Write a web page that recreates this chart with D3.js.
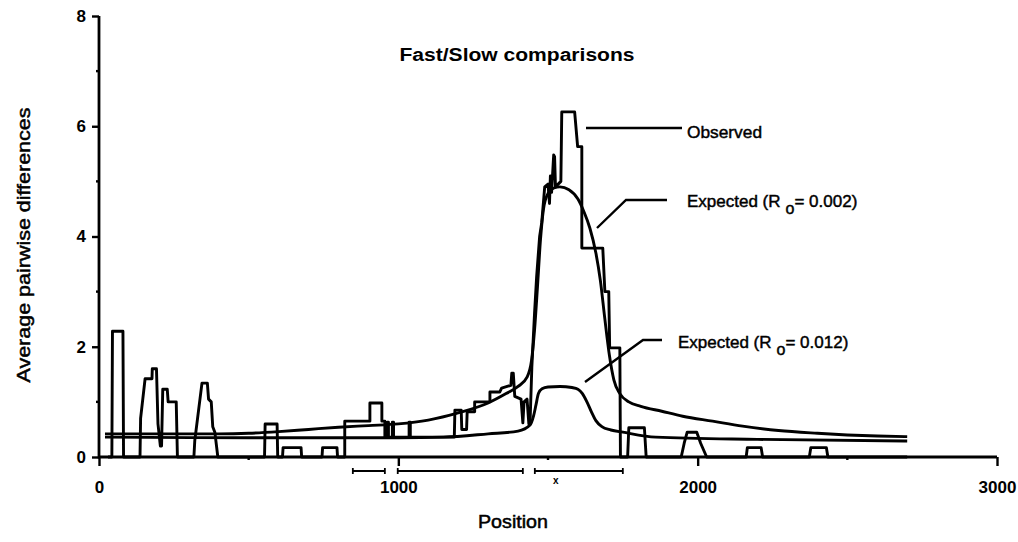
<!DOCTYPE html>
<html>
<head>
<meta charset="utf-8">
<script src="https://cdn.jsdelivr.net/npm/d3@7"></script>
<style>
  body{margin:0;background:#fff;}
  svg{display:block;font-family:"Liberation Sans",Arial,sans-serif;}
</style>
</head>
<body>
<svg id="chart" width="1018" height="542"></svg>
<script>
// observed (step trace, vertices)
const obsPos=[30,43,45,80,82,137,139,154,177,178,192,197,205,209,213,228,231,258,262,317,320,344,362,366,375,380,387,397,
  553,555,595,597,613,615,675,677,745,747,795,797,821,821,905,905,945,945,955,955,963,963,967,967,980,980,984,984,1036,1036,1040,1040,
  1187,1189,1210,1212,1228,1230,1255,1255,1306,1306,1339,1345,1376,1379,1384,1389,1410,1416,1420,1430,1436,1440,1446,1455,1462,1472,1479,1486,1489,1500,
  1505,1508,1512,1519,1522,1525,1543,1546,1589,1599,1613,1613,1683,1690,1703,1706,1740,1742,1766,1770,1822,1828,1945,1955,1965,1997,2010,2030,
  2162,2166,2212,2217,2373,2378,2430,2435,2700]
const obsVal=[0,0,2.28,2.28,0,0,0.7,1.42,1.42,1.6,1.6,0.6,0.2,0.2,1.23,1.23,1.0,1.0,0,0,0.3,1.34,1.34,1.05,1.0,0.55,0.45,0,
  0,0.6,0.6,0,0,0.17,0.17,0,0,0.17,0.17,0,0,0.65,0.65,0.98,0.98,0.65,0.65,0.36,0.36,0.63,0.63,0.36,0.36,0.63,0.63,0.36,0.36,0.63,0.63,0.36,
  0.36,0.85,0.85,0.5,0.5,0.82,0.82,1.0,1.0,1.18,1.18,1.25,1.3,1.52,1.52,1.1,1.05,0.62,1.0,1.05,0.6,0.62,1.63,2.6,3.27,4.0,4.25,4.7,4.9,4.95,
  4.6,5.1,4.8,5.48,5.45,4.9,5.0,6.26,6.26,5.63,5.63,3.79,3.79,3.0,3.0,1.98,1.98,0,0,0.53,0.53,0,0,0.25,0.45,0.45,0.25,0,
  0,0.17,0.17,0,0,0.17,0.17,0,0]

// expected, Ro = 0.002
const e1Pos=[20,200,400,500,600,700,800,900,1000,1100,1200,1300,1360,1400,1430,1445,1455,1465,1475,1485,1500,1520,1540,1570,1600,1620,1640,1660,1675,1690,1705,1720,1740,1770,1810,1880,1950,2050,2150,2270,2400,2500,2600,2700]
const e1Val=[0.42,0.42,0.42,0.43,0.46,0.5,0.54,0.57,0.6,0.67,0.8,0.98,1.15,1.28,1.45,1.75,2.3,3.1,3.95,4.5,4.78,4.88,4.9,4.85,4.68,4.45,4.15,3.7,3.2,2.5,1.85,1.4,1.15,1.0,0.92,0.83,0.74,0.65,0.56,0.48,0.43,0.4,0.38,0.37]

// expected, Ro = 0.012
const e2Pos=[20,500,1000,1150,1300,1400,1440,1452,1460,1468,1480,1500,1540,1580,1600,1615,1630,1645,1660,1680,1710,1750,1860,2200,2700]
const e2Val=[0.36,0.35,0.35,0.36,0.42,0.47,0.58,0.75,0.95,1.15,1.24,1.27,1.28,1.26,1.23,1.15,1.0,0.82,0.66,0.55,0.49,0.45,0.36,0.32,0.29]

const yTicks=[0,2,4,6,8]
const yMinor=[1,3,5,7]
const xTicks=[0,1000,2000,3000]
const xMinor=[500,1500,2500]
const bracketStart=[848,998,1456]
const bracketEnd=[955,1416,1750]
const markPos=[1526]

const title="Fast/Slow comparisons"
const xTitle="Position"
const yTitle="Average pairwise differences"

const svg=d3.select("#chart")
const x=d3.scaleLinear().domain([0,3000]).range([99,997])
const y=d3.scaleLinear().domain([0,8]).range([457,16])

const plot=svg.append("g")

const line=d3.line().x(d=>x(d[0])).y(d=>y(d[1]))
const smooth=d3.line().x(d=>x(d[0])).y(d=>y(d[1])).curve(d3.curveMonotoneX)

// axes: d3 draws ticks + labels, the axis lines are drawn by hand below
const yAxis=d3.axisLeft(y).tickValues(yTicks).tickSize(7).tickPadding(4).tickFormat(d3.format("d"))
const gy=plot.append("g").attr("transform","translate(99,0)").call(yAxis)
gy.append("g").selectAll("line").data(yMinor).enter().append("line")
  .attr("x1",-3).attr("x2",0).attr("y1",d=>y(d)).attr("y2",d=>y(d))
const xAxis=d3.axisBottom(x).tickValues(xTicks).tickSize(9).tickPadding(15).tickFormat(d3.format("d"))
const gx=plot.append("g").attr("transform","translate(0,457)").call(xAxis)
gx.append("g").selectAll("line").data(xMinor).enter().append("line")
  .attr("x1",d=>x(d)).attr("x2",d=>x(d)).attr("y1",0).attr("y2",3)
for(const g of [gx,gy]){
  g.select(".domain").remove()
  g.selectAll("line").attr("stroke","#000").attr("stroke-width",2.4)
  g.selectAll("text").attr("fill","#000").attr("font-size",17).attr("font-weight","bold")
    .attr("font-family","'Liberation Sans',Arial,sans-serif")
}
gy.selectAll(".tick text").attr("dx",-2)
plot.append("path").attr("d",`M${x(0)},${y(8)}V${y(0)}H${x(3000)}`)
  .attr("fill","none").attr("stroke","#000").attr("stroke-width",2.8).attr("stroke-linejoin","miter")

// brackets under the axis
const br=plot.append("g").attr("stroke","#000").attr("stroke-width",1.8)
bracketStart.forEach((s,i)=>{
  const e=bracketEnd[i]
  br.append("line").attr("x1",x(s)).attr("x2",x(e)).attr("y1",471).attr("y2",471)
  br.append("line").attr("x1",x(s)).attr("x2",x(s)).attr("y1",468).attr("y2",474)
  br.append("line").attr("x1",x(e)).attr("x2",x(e)).attr("y1",468).attr("y2",474)
})
plot.selectAll(".mark").data(markPos).enter().append("text").attr("class","mark")
  .attr("x",d=>x(d)).attr("y",484).attr("text-anchor","middle").attr("font-size",10).attr("font-weight","bold").text("x")

// series
const series=[
  {pos:e2Pos,val:e2Val,gen:smooth},
  {pos:e1Pos,val:e1Val,gen:smooth},
  {pos:obsPos,val:obsVal,gen:line}
]
series.forEach(s=>{
  plot.append("path").datum(s.pos.map((p,i)=>[p,s.val[i]]))
    .attr("d",s.gen).attr("fill","none").attr("stroke","#000")
    .attr("stroke-width",2.9).attr("stroke-linejoin","round")
})

// titles (scan ink is heavy, so regular text gets a faint outline)
svg.append("text").attr("x",517).attr("y",61).attr("text-anchor","middle")
  .attr("font-size",18).attr("font-weight","bold").attr("textLength",235).attr("lengthAdjust","spacingAndGlyphs").text(title)
svg.append("text").attr("x",513).attr("y",528).attr("text-anchor","middle")
  .attr("font-size",18).attr("stroke","#000").attr("stroke-width",0.5)
  .attr("textLength",70).attr("lengthAdjust","spacingAndGlyphs").text(xTitle)
svg.append("text").attr("transform","translate(30,245) rotate(-90)").attr("text-anchor","middle")
  .attr("font-size",19).attr("stroke","#000").attr("stroke-width",0.5)
  .attr("textLength",275).attr("lengthAdjust","spacingAndGlyphs").text(yTitle)

// annotations with leader lines
const lead=svg.append("g").attr("stroke","#000").attr("stroke-width",2.4).attr("fill","none")
lead.append("path").attr("d","M586,128H682")
lead.append("path").attr("d","M597,228L626,200H667")
lead.append("path").attr("d","M585,382L643,340H662")

const notes=svg.append("g").attr("stroke","#000").attr("stroke-width",0.45)
notes.append("text").attr("x",687).attr("y",138).attr("font-size",17).attr("textLength",75).attr("lengthAdjust","spacingAndGlyphs").text("Observed")
const ann=[{x:687,y:207,v:"0.002"},{x:678,y:348,v:"0.012"}]
ann.forEach(a=>{
  const t=notes.append("text").attr("x",a.x).attr("y",a.y).attr("font-size",17)
  t.append("tspan").text("Expected (R")
  t.append("tspan").attr("dx",5).attr("dy",7).attr("font-size",16).text("o")
  t.append("tspan").attr("dy",-7).text("= "+a.v+")")
})
</script>
</body>
</html>
